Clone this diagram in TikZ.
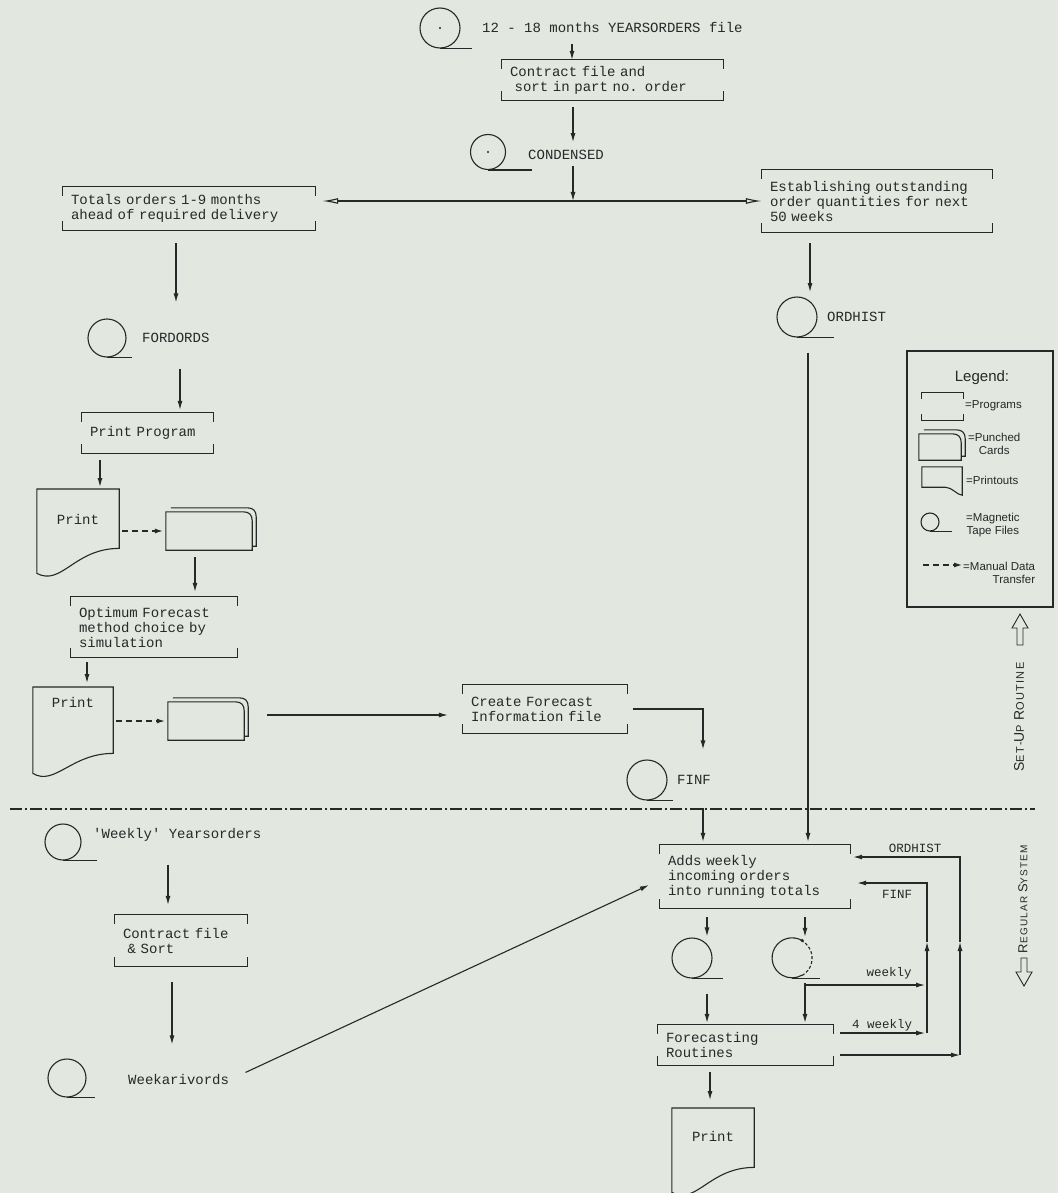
\documentclass[tikz,border=0pt]{standalone}
\usepackage{fontspec}
\newfontfamily\twf[WordSpace={1,0,0}]{Liberation Mono}
\newfontfamily\handf{Liberation Sans}
\newfontfamily\capf[LetterSpace=12]{Liberation Sans}
\usetikzlibrary{arrows.meta,calc}
\definecolor{paper}{RGB}{226,231,223}
\definecolor{inkc}{RGB}{40,40,40}
\newcommand\twtext{\twf\fontsize{14}{15}\selectfont}
\newcommand\twsmall{\twf\fontsize{12.5}{13}\selectfont}
\newcommand\capsm[3]{{\fontsize{#3}{#3}\selectfont #1}{\fontsize{\numexpr#3*4/5\relax}{#3}\selectfont #2}}
\newcommand\progframe[2][9]{\draw[ink] ([shift={(0,#1)}]#2.north west) -- (#2.north west) -- (#2.north east) -- ([shift={(0,#1)}]#2.north east) ([shift={(0,-#1)}]#2.south west) -- (#2.south west) -- (#2.south east) -- ([shift={(0,-#1)}]#2.south east);}
\newcommand\tapetail[2]{\draw[ink] (#1.south) -- ++(#2,0);}
\newcommand\printshape[4]{\draw[ink] (#1.north west) -- (#1.north east) -- (#1.south east) .. controls +(-#4,0) and +(#3,13) .. ([shift={(0,#2)}]#1.south west) -- cycle;}
\newcommand\cardshape[1]{\draw[ink] (#1.south west) -- (#1.north west) -- ([shift={(-9,0)}]#1.north east) .. controls ([shift={(-3,0)}]#1.north east) and ([shift={(0,3)}]#1.north east) .. ([shift={(0,9)}]#1.north east) -- (#1.south east) -- cycle;
\draw[ink] ([shift={(5,-4)}]#1.north west) -- ([shift={(-5,-4)}]#1.north east) .. controls ([shift={(1,-4)}]#1.north east) and ([shift={(4,-1)}]#1.north east) .. ([shift={(4,5)}]#1.north east) -- ([shift={(4,-4)}]#1.south east) -- ([shift={(0,-4)}]#1.south east);}
\tikzset{
  ink/.style={draw=inkc, line width=1.1pt},
  arr/.style={ink, -{Latex[length=9pt,width=5pt]}},
  darr/.style={ink, dash pattern=on 6pt off 4pt, -{Latex[length=8pt,width=5pt]}},
  dbl/.style={ink, -{Latex[open,length=16pt,width=6pt]}},
  tape/.style={circle, draw=inkc, line width=1.1pt, minimum size=40pt, inner sep=0pt},
  lbl/.style={font=\twtext, text=inkc, anchor=west, inner sep=0pt},
  slbl/.style={font=\twsmall, text=inkc, inner sep=0pt},
  prog/.style={font=\twtext, text=inkc, align=left, inner xsep=8pt, inner ysep=0pt},
  prt/.style={font=\twtext, text=inkc, anchor=north, inner sep=0pt},
  hlbl/.style={font=\handf\fontsize{11.5}{12.5}\selectfont, text=inkc, inner sep=0pt, anchor=west},
}
\begin{document}
\begin{tikzpicture}[x=1pt,y=-1pt]
\fill[paper] (0,0) rectangle (1058,1193);
\useasboundingbox (0,0) rectangle (1058,1193);
% helper coordinates
\coordinate (x572) at (572,0);
\coordinate (x573) at (573,0);
\coordinate (x176) at (176,0);
\coordinate (x180) at (180,0);
\coordinate (x100) at (100,0);
\coordinate (x195) at (195,0);
\coordinate (x87) at (87,0);
\coordinate (xF) at (703,0);
\coordinate (x808) at (808,0);
\coordinate (x810) at (810,0);
\coordinate (x168) at (168,0);
\coordinate (x172) at (172,0);
\coordinate (x707) at (707,0);
\coordinate (x805) at (805,0);
\coordinate (x710) at (710,0);
\coordinate (xFL) at (927,0);
\coordinate (xOL) at (960,0);
\coordinate (y297) at (0,297);
\coordinate (y715) at (0,715);
\coordinate (y880) at (0,880);
\coordinate (y857) at (0,857);
\coordinate (y883) at (0,883);
\coordinate (y942) at (0,942);
\coordinate (y985) at (0,985);
\coordinate (y1033) at (0,1033);
\coordinate (y1055) at (0,1055);
\coordinate (hj) at (573,201);

% ---- top: yearsorders tape
\node[tape] (tYO) at (440,28) {};
\fill[inkc] (tYO.center) circle (1.2pt);
\tapetail{tYO}{32}
\node[lbl] (lYO) at (482,27) {12 - 18 months YEARSORDERS file};
\node[prog, minimum width=221pt, minimum height=40pt, text width=205pt] (pContract) at (612.5,80) {Contract file and\\~sort in part no. order};
\progframe{pContract}
\draw[arr, shorten <=12pt] (x572 |- lYO.south) -- (x572 |- pContract.north);

% ---- condensed
\node[tape, minimum size=35pt] (tCond) at (488,152) {};
\fill[inkc] (tCond.center) circle (1.2pt);
\tapetail{tCond}{44}
\node[lbl] (lCond) at (528,155) {CONDENSED};
\draw[arr, shorten <=7pt, shorten >=8pt] (x573 |- pContract.south) -- (x573 |- lCond.north);
\draw[arr, shorten <=6pt] (x573 |- lCond.south) -- (hj);

% ---- totals / establishing
\node[prog, minimum width=252pt, minimum height=43pt, text width=236pt] (pTotals) at (189,208.5) {Totals orders 1-9 months\\ahead of required delivery};
\progframe{pTotals}
\node[prog, minimum width=230pt, minimum height=62pt, text width=214pt] (pEstab) at (877,201) {Establishing outstanding\\order quantities for next\\50 weeks};
\progframe{pEstab}
\draw[dbl, shorten >=7pt] (hj) -- (pTotals.east |- hj);
\draw[dbl] (hj) -- (pEstab.west |- hj);

% ---- left column
\node[tape, minimum size=38pt] (tFord) at (107,338) {};
\tapetail{tFord}{25}
\node[lbl] (lFord) at (142,338) {FORDORDS};
\draw[arr, shorten <=13pt, shorten >=16pt] (x176 |- pTotals.south) -- (x176 |- tFord.north);
\node[prog, minimum width=131pt, minimum height=40pt, text width=115pt] (pPrint) at (147.5,433) {Print Program};
\progframe{pPrint}
\draw[arr, shorten <=11pt, shorten >=3pt] (x180 |- tFord.south) -- (x180 |- pPrint.north);

\node[prt, minimum width=82pt, text height=35pt, text depth=24pt] (pr1) at (78,489) {Print};
\printshape{pr1}{25}{25}{45}
\draw[arr, shorten <=7pt, shorten >=2pt] (x100 |- pPrint.south) -- (x100 |- pr1.north);
\node[minimum width=86pt, minimum height=38pt, inner sep=0pt] (cards1) at (209,531) {};
\cardshape{cards1}
\draw[darr, shorten <=3pt, shorten >=3pt] (pr1.east |- cards1.west) -- (cards1.west);

\node[prog, minimum width=166pt, minimum height=60pt, text width=150pt] (pOpt) at (154,627) {Optimum Forecast\\method choice by\\simulation};
\progframe{pOpt}
\draw[arr, shorten <=7pt, shorten >=5pt] (x195 |- cards1.south) -- (x195 |- pOpt.north);

\node[prt, minimum width=80pt, text height=20pt, text depth=46pt] (pr2) at (73,687) {Print};
\printshape{pr2}{20}{22}{42}
\draw[arr, shorten <=5pt, shorten >=4pt] (x87 |- pOpt.south) -- (x87 |- pr2.north);
\node[minimum width=76pt, minimum height=38pt, inner sep=0pt] (cards2) at (206,721) {};
\cardshape{cards2}
\draw[darr, shorten <=3pt, shorten >=3pt] (pr2.east |- cards2.west) -- (cards2.west);

\node[prog, minimum width=164pt, minimum height=48pt, text width=148pt] (pCreate) at (545,709) {Create Forecast\\Information file};
\progframe{pCreate}
\draw[arr, shorten <=23pt, shorten >=15pt] (cards2.east |- y715) -- (pCreate.west |- y715);

% ---- FINF
\node[tape] (tFinf) at (647,780) {};
\tapetail{tFinf}{26}
\node[lbl] (lFinf) at (677,780) {FINF};
\draw[arr, shorten <=6pt, shorten >=10pt] (pCreate.east) -| (xF |- tFinf.north);

% ---- ORDHIST
\draw[arr, shorten <=11pt, shorten >=5pt] (x810 |- pEstab.south) -- (x810 |- y297);
\node[tape] (tOrd) at (797,317) {};
\tapetail{tOrd}{37}
\node[lbl] (lOrd) at (827,317) {ORDHIST};

% ---- legend
\node[draw=inkc, line width=1.4pt, minimum width=146pt, minimum height=256pt, inner sep=0pt] (legend) at (980,479) {};
\node[font=\handf\fontsize{15}{16}\selectfont, text=inkc] (lgTitle) at (982,378) {Legend:};
\node[minimum width=41pt, minimum height=27pt, inner sep=0pt] (lgP) at (942.5,406.5) {};
\progframe[6]{lgP}
\node[hlbl] (lgPt) at (965,406) {=Programs};
\node[minimum width=42pt, minimum height=26pt, inner sep=0pt] (lgC) at (940,447) {};
\cardshape{lgC}
\node[hlbl, align=center] (lgCt) at (968,444) {=Punched\\Cards};
\node[minimum width=40pt, minimum height=20pt, inner sep=0pt] (lgPr) at (942,477) {};
\draw[ink] (lgPr.south west) -- (lgPr.north west) -- (lgPr.north east) -- ([shift={(0,8)}]lgPr.south east) .. controls ([shift={(-5,8)}]lgPr.south east) and ([shift={(-10,0)}]lgPr.south east) .. ([shift={(-17,0)}]lgPr.south east) -- cycle;
\node[hlbl] (lgPrt) at (966,480) {=Printouts};
\node[tape, minimum size=18pt] (lgTp) at (930,522) {};
\tapetail{lgTp}{22}
\node[hlbl, align=center] (lgTpt) at (966,525) {=Magnetic\\Tape Files};
\coordinate (lgA1) at (923,565);
\coordinate (lgA2) at (962,565);
\draw[darr] (lgA1) -- (lgA2);
\node[hlbl, align=right] (lgAt) at (963,573) {=Manual Data\\Transfer};

% ---- side labels
\draw[ink, line width=0.9pt] (1020,614) -- (1028,628) -- (1023,628) -- (1023,645) -- (1017,645) -- (1017,628) -- (1012,628) -- cycle;
\node[font=\capf, text=inkc, rotate=90, inner sep=0pt] (lSU) at (1019,717) {\capsm{S}{ET-}{14}\capsm{U}{P}{14} \capsm{R}{OUTINE}{14}};
\node[font=\capf, text=inkc, rotate=90, inner sep=0pt] (lRS) at (1023,899) {\capsm{R}{EGULAR}{13} \capsm{S}{YSTEM}{13}};
\draw[ink, line width=0.9pt] (1024,986) -- (1016,972) -- (1021,972) -- (1021,958) -- (1027,958) -- (1027,972) -- (1032,972) -- cycle;

% ---- divider
\coordinate (dl1) at (10,809);
\coordinate (dl2) at (1035,809);
\draw[ink, dash pattern=on 12pt off 3pt on 2pt off 3pt] (dl1) -- (dl2);

% ---- regular system
\node[prog, minimum width=190pt, minimum height=63pt, text width=174pt] (pAdds) at (755,876.5) {Adds weekly\\incoming orders\\into running totals};
\progframe{pAdds}
\draw[arr, shorten <=23pt, shorten >=3pt] (xF |- lFinf.south) -- (xF |- pAdds.north);
\draw[arr, shorten <=15pt, shorten >=3pt] (x808 |- tOrd.south) -- (x808 |- pAdds.north);

\node[tape, minimum size=36pt] (tWY) at (63,842) {};
\tapetail{tWY}{34}
\node[lbl] (lWY) at (93,835) {\textquotesingle Weekly\textquotesingle\ Yearsorders};
\node[prog, minimum width=132pt, minimum height=51pt, text width=116pt] (pCS) at (181,940.5) {Contract file\\~\& Sort};
\progframe{pCS}
\draw[arr, shorten <=4pt, shorten >=10pt] (x168 |- tWY.south) -- (x168 |- pCS.north);
\node[tape, minimum size=38pt] (tWk) at (67,1078) {};
\tapetail{tWk}{28}
\node[lbl] (lWk) at (128,1080) {Weekarivords};
\draw[arr, shorten <=16pt, shorten >=14pt] (x172 |- pCS.south) -- (x172 |- tWk.north);
\draw[arr, shorten <=18pt, shorten >=12pt] (lWk.east) -- (pAdds.west |- y880);

\node[tape] (tA) at (692,958) {};
\tapetail{tA}{31}
\node[circle, minimum size=40pt, inner sep=0pt] (tB) at (792,958) {};
\draw[ink] (tB.60) arc[start angle=60, end angle=300, radius=20pt];
\draw[ink, densely dashed] (tB.300) arc[start angle=300, end angle=420, radius=20pt];
\fill[inkc] (tB.60) circle (1.8pt);
\tapetail{tB}{28}
\draw[arr, shorten <=9pt, shorten >=1pt] (x707 |- pAdds.south) -- (x707 |- tA.north);
\draw[arr, shorten <=9pt, shorten >=1pt] (x805 |- pAdds.south) -- (x805 |- tB.north);

\node[prog, minimum width=175pt, minimum height=40pt, text width=159pt] (pFR) at (745.5,1045) {Forecasting\\Routines};
\progframe{pFR}
\draw[arr, shorten <=15pt, shorten >=2pt] (x707 |- tA.south) -- (x707 |- pFR.north);
\draw[arr, shorten <=5pt, shorten >=2pt] (x805 |- tB.south) -- (x805 |- pFR.north);
\draw[arr, shorten >=2pt] (x805 |- y985) -- (xFL |- y985);
\node[slbl] (lWeekly) at (889,973) {weekly};
\draw[arr, shorten <=7pt, shorten >=2pt] (pFR.east |- y1033) -- (xFL |- y1033);
\node[slbl] (l4W) at (882,1025) {4 weekly};
\draw[arr] (xFL |- y1033) -- (xFL |- y942);
\draw[arr, shorten >=7pt] (xFL |- y942) |- (pAdds.east |- y883);
\node[slbl] (lFinf2) at (897,894) {FINF};
\draw[arr, shorten <=7pt] (pFR.east |- y1055) -- (xOL |- y1055);
\draw[arr] (xOL |- y1055) -- (xOL |- y942);
\draw[arr, shorten >=3pt] (xOL |- y942) |- (pAdds.east |- y857);
\node[slbl] (lOrd2) at (915,848) {ORDHIST};

\node[prt, minimum width=82pt, text height=33pt, text depth=26pt] (pr3) at (713,1108) {Print};
\printshape{pr3}{25}{25}{45}
\draw[arr, shorten <=7pt, shorten >=8pt] (x710 |- pFR.south) -- (x710 |- pr3.north);
\end{tikzpicture}
\end{document}
